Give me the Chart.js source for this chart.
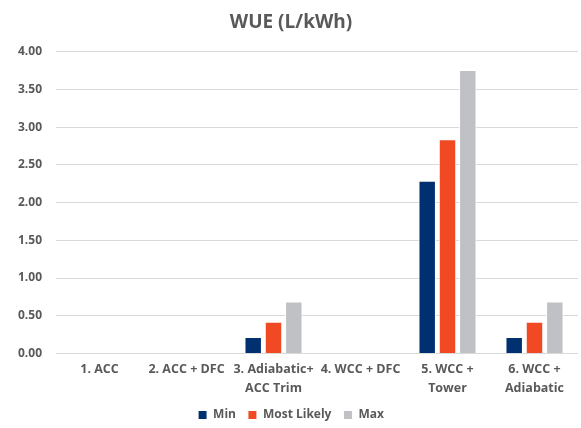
<!DOCTYPE html>
<html>
<head>
<meta charset="utf-8">
<script src="https://cdn.jsdelivr.net/npm/chart.js@4"></script>
<style>
  html, body { margin: 0; padding: 0; background: #fff; }
  #wrap { width: 581px; height: 428px; }
</style>
</head>
<body>
<div id="wrap"><canvas id="wueChart" width="581" height="428"></canvas></div>
<script>
const categories = [
    '1. ACC',
    '2. ACC + DFC',
    ['3. Adiabatic+', 'ACC Trim'],
    '4. WCC + DFC',
    ['5. WCC +', 'Tower'],
    ['6. WCC +', 'Adiabatic']
];
const minValues = [0, 0, 0.22, 0, 2.29, 0.22];
const likelyValues = [0, 0, 0.42, 0, 2.84, 0.42];
const maxValues = [0, 0, 0.69, 0, 3.76, 0.69];

const textGrey = '#595959';
const fontFam = "'Open Sans', 'Noto Sans', sans-serif";

const ctx = document.getElementById('wueChart').getContext('2d');
const chart = new Chart(ctx, {
    type: 'bar',
    data: {
        labels: categories,
        datasets: [
            { label: 'Min', data: minValues, backgroundColor: '#003070', borderColor: '#ffffff', borderWidth: 1 },
            { label: 'Most Likely', data: likelyValues, backgroundColor: '#F04923', borderColor: '#ffffff', borderWidth: 1 },
            { label: 'Max', data: maxValues, backgroundColor: '#C0C1C4', borderColor: '#ffffff', borderWidth: 1 }
        ]
    },
    options: {
        responsive: false,
        animation: false,
        // negative bottom pad pushes the legend a little lower
        layout: { padding: { left: 4, right: 3, top: 5, bottom: -3 } },
        datasets: { bar: { categoryPercentage: 0.7, barPercentage: 0.86 } },
        plugins: {
            title: {
                display: true,
                text: 'WUE (L/kWh)',
                color: textGrey,
                font: { family: fontFam, size: 19, weight: 'bold' },
                padding: { top: 6, bottom: 18 }
            },
            legend: {
                position: 'bottom',
                labels: {
                    color: textGrey,
                    boxWidth: 9,
                    boxHeight: 9,
                    padding: 12,
                    font: { family: fontFam, size: 12, weight: 'bold' }
                }
            },
            tooltip: { enabled: false }
        },
        scales: {
            x: {
                grid: { display: false },
                border: { display: false },
                ticks: {
                    color: textGrey,
                    maxRotation: 0,
                    autoSkip: false,
                    padding: -1,
                    font: { family: fontFam, size: 12.5, weight: 'bold', lineHeight: 1.5 }
                }
            },
            y: {
                min: 0,
                max: 4,
                grid: { color: '#D9D9D9', drawTicks: false, lineWidth: 1 },
                border: { display: false },
                ticks: {
                    stepSize: 0.5,
                    padding: 14,
                    color: textGrey,
                    font: { family: fontFam, size: 12, weight: 'bold' },
                    callback: v => v.toFixed(2)
                }
            }
        }
    }
});
</script>
</body>
</html>
